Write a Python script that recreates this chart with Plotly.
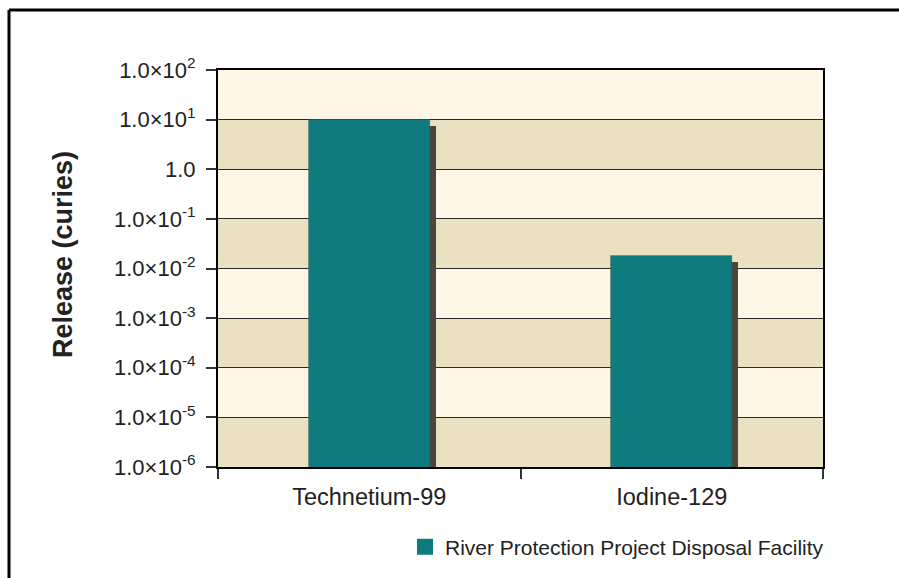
import plotly.graph_objects as go

categories = ["Technetium-99", "Iodine-129"]
release_curies = [9.7, 0.018]
series_name = "River Protection Project Disposal Facility"
tick_values = [1e-6, 1e-5, 1e-4, 1e-3, 1e-2, 1e-1, 1.0, 1e1, 1e2]
tick_labels = ["1.0×10<sup>-6</sup>", "1.0×10<sup>-5</sup>", "1.0×10<sup>-4</sup>",
               "1.0×10<sup>-3</sup>", "1.0×10<sup>-2</sup>", "1.0×10<sup>-1</sup>",
               "1.0", "1.0×10<sup>1</sup>", "1.0×10<sup>2</sup>"]

W, H = 899, 578
L, R, T, B = 218, 76, 70, 111
pw, ph = W - L - R, H - T - B

TEAL = "#0f7b7e"
LIGHT = "#fef6e6"
DARK = "#e9e1c1"
FONT = "Liberation Sans, Arial, sans-serif"

fig = go.Figure()

# shadow bars
shift_cat = 6 / (pw / 2)
fig.add_trace(go.Bar(
    x=categories, y=[v * 10 ** (-0.12) for v in release_curies],
    width=0.4, offset=-0.2 + shift_cat,
    marker=dict(color="#4a4640", line=dict(width=0)),
    showlegend=False, hoverinfo="skip"))
# main bars
fig.add_trace(go.Bar(
    x=categories, y=release_curies, width=0.4, offset=-0.2,
    marker=dict(color=TEAL, line=dict(color="#3a5a50", width=0.6)),
    showlegend=False, name=series_name))
# legend entry
fig.add_trace(go.Scatter(
    x=[None], y=[None], mode="markers", name=series_name,
    marker=dict(symbol="square", size=18, color=TEAL, line=dict(width=0))))

# background bands (alternating per decade)
shapes = []
for k in range(-6, 2):
    color = DARK if (k % 2 == 0) else LIGHT
    shapes.append(dict(type="rect", xref="paper", yref="y", layer="below",
                       x0=0, x1=1, y0=10 ** k, y1=10 ** (k + 1),
                       fillcolor=color, line=dict(width=0)))

def px_x(p):
    return (p - L) / pw

def px_y(p):
    return (H - B - p) / ph

# outer frame (clipped by page edges)
shapes.append(dict(type="line", xref="paper", yref="paper",
                   x0=px_x(9), x1=px_x(910), y0=px_y(10), y1=px_y(10),
                   line=dict(color="black", width=3)))
shapes.append(dict(type="line", xref="paper", yref="paper",
                   x0=px_x(9), x1=px_x(9), y0=px_y(10), y1=px_y(590),
                   line=dict(color="black", width=3)))

fig.update_layout(
    width=W, height=H,
    margin=dict(l=L, r=R, t=T, b=B, autoexpand=False),
    paper_bgcolor="white", plot_bgcolor=LIGHT,
    barmode="overlay", bargap=0,
    font=dict(family=FONT, size=22, color="#222222"),
    shapes=shapes,
    showlegend=True,
    legend=dict(orientation="h", x=px_x(405), y=px_y(547),
                xanchor="left", yanchor="middle",
                font=dict(size=21, color="#222222"),
                bgcolor="rgba(0,0,0,0)"),
    annotations=[dict(text="<b>Release (curies)</b>", xref="paper", yref="paper",
                      x=px_x(63), y=px_y(255), showarrow=False, textangle=-90,
                      font=dict(size=27, color="#222222"),
                      xanchor="center", yanchor="middle")],
)

fig.update_yaxes(
    type="log", range=[-6, 2], tickvals=tick_values, ticktext=tick_labels,
    showgrid=True, gridcolor="#2a2a2a", gridwidth=1.4,
    showline=True, linecolor="black", linewidth=2, mirror=True,
    ticks="outside", ticklen=10, tickcolor="#333333", tickwidth=1.5,
    ticklabelstandoff=6, zeroline=False,
    tickfont=dict(size=22, color="#222222"))
fig.update_xaxes(
    type="category", range=[-0.5, 1.5],
    showgrid=False, showline=True, linecolor="black", linewidth=2, mirror=True,
    ticks="outside", tickson="boundaries", ticklen=10, tickcolor="#333333",
    tickwidth=1.5, ticklabelstandoff=8, tickfont=dict(size=23.5, color="#222222"))

fig.write_html("out.html", config={"displayModeBar": False},
               post_script="document.body.style.margin='0';document.body.style.padding='0';")
